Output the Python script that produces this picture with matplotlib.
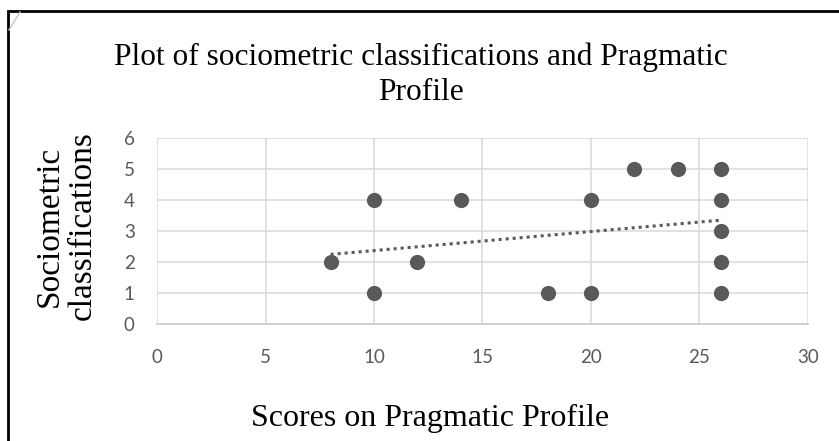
import numpy as np
import matplotlib.pyplot as plt
from matplotlib.patches import Rectangle
from matplotlib.lines import Line2D

# scores on pragmatic profile vs sociometric classification
scores = [8, 10, 10, 12, 14, 18, 20, 20, 22, 24, 26, 26, 26, 26, 26]
classes = [2, 4, 1, 2, 4, 1, 4, 1, 5, 5, 5, 4, 3, 2, 1]
xticks = [0, 5, 10, 15, 20, 25, 30]
yticks = [0, 1, 2, 3, 4, 5, 6]

grey = '#595959'
W, H = 839, 441
fig = plt.figure(figsize=(W/100, H/100), dpi=100)
ax = fig.add_axes([157/W, 1-324/H, 651/W, 186/H])

ax.scatter(scores, classes, s=120, color=grey, zorder=3, linewidths=0)

# linear trendline
m, c = np.polyfit(scores, classes, 1)
xs = np.array([min(scores), max(scores)])
ax.plot(xs, m*xs + c, linestyle=(0, (1, 1.3)), color=grey, lw=2.2, zorder=2)

ax.set_xlim(0, 30); ax.set_ylim(0, 6)
ax.set_xticks(xticks); ax.set_yticks(yticks)
ax.grid(True, color='#d9d9d9', lw=1.1)
ax.set_axisbelow(True)
for s in ['top', 'right', 'left']:
    ax.spines[s].set_visible(False)
ax.spines['bottom'].set_color('#cccccc')
ax.spines['bottom'].set_linewidth(1.3)
ax.tick_params(length=0, labelsize=13.5, labelcolor=grey)
ax.tick_params(axis='x', pad=18)
ax.tick_params(axis='y', pad=16)
for lab in ax.get_xticklabels() + ax.get_yticklabels():
    lab.set_family('Lato')

serif = 'Liberation Serif'
fig.text(421/W, 1-75/H, 'Plot of sociometric classifications and Pragmatic\nProfile',
         ha='center', va='center', fontsize=22.6, family=serif, linespacing=1.25)
fig.text(430/W, 1-418/H, 'Scores on Pragmatic Profile', ha='center', va='center',
         fontsize=23, family=serif)
fig.text(66/W, 1-226/H, 'Sociometric\nclassifications', ha='center', va='center',
         fontsize=24, family=serif, rotation=90, linespacing=1.12)

# frame around the chart
fig.patches.append(Rectangle((8/W, -0.05), 1.0, 1-11/H+0.05, transform=fig.transFigure,
                             fill=False, edgecolor='black', lw=2))
fig.lines.append(Line2D([9/W, 20/W], [1-30/H, 1-12/H], transform=fig.transFigure,
                        color='#c8c8c8', lw=1))

fig.savefig('out.png', dpi=100)
